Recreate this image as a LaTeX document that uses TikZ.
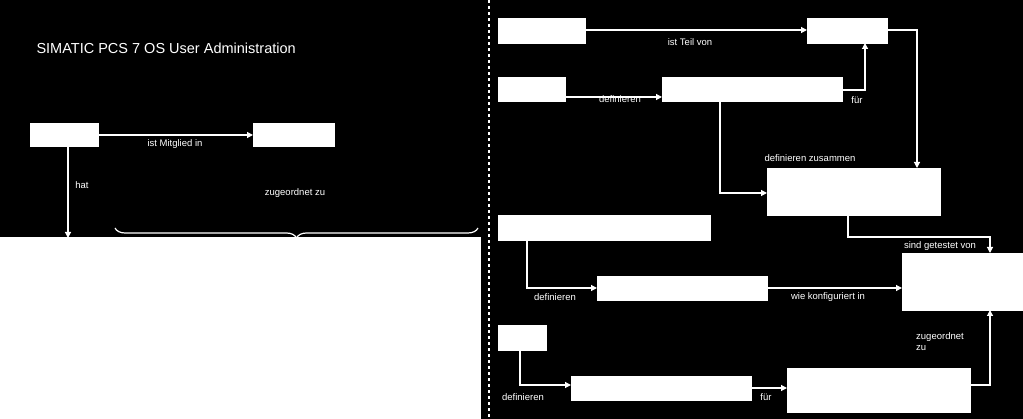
\documentclass[tikz,border=0pt]{standalone}
\usepackage{fontspec}
\setmainfont{Liberation Sans}
\usetikzlibrary{decorations.pathreplacing,arrows.meta}
\begin{document}
\begin{tikzpicture}[x=1pt,y=-1pt,
  bx/.style={fill=white,draw=white},
  con/.style={draw=white,line width=1.2pt,-{Triangle[length=6pt,width=6pt]}},
  lab/.style={text=white,font=\fontsize{9.5}{11}\selectfont,inner sep=1pt}]
\fill[black] (0,0) rectangle (1023,419);
\useasboundingbox (0,0) rectangle (1023,419);
\node[text=white,anchor=west,font=\fontsize{14.5}{16}\selectfont] (t) at (33,48) {SIMATIC PCS 7 OS User Administration};
\draw[white,dashed,line width=1.5pt] (489,0) -- (489,419);
% left
\path[bx] (30,123) rectangle (98,146); \coordinate (A) at (98,135);
\path[bx] (253,123) rectangle (334,146); \coordinate (B) at (253,135);
\draw[con] (A) -- (B);
\node[lab] at (175,144) {ist Mitglied in};
\coordinate (Ad) at (68,146); \coordinate (Big) at (68,238);
\draw[con] (Ad) -- (Big);
\node[lab] at (82,185) {hat};
\path[bx] (0,237) rectangle (480,419);
\coordinate (b1) at (115,228); \coordinate (b2) at (478,228);
\draw[white,line width=1.2pt,decorate,decoration={brace,amplitude=10pt,mirror}] (b1) -- (b2);
\node[lab] at (295,193) {zugeordnet zu};
% right
\path[bx] (498,18) rectangle (585,43);
\path[bx] (807,18) rectangle (887,43);
\coordinate (r1) at (585,30); \coordinate (r2) at (807,30);
\draw[con] (r1) -- (r2);
\node[lab] at (690,42) {ist Teil von};
\path[bx] (498,77) rectangle (565,101);
\path[bx] (662,77) rectangle (842,101);
\coordinate (r3) at (565,97); \coordinate (r4) at (662,97);
\draw[con] (r3) -- (r4);
\node[lab] at (620,99) {definieren};
\coordinate (r4r) at (842,90); \coordinate (r2b) at (865,43);
\draw[con] (r4r) -| (r2b);
\node[lab] at (857,100) {für};
\path[bx] (767,168) rectangle (940,215);
\coordinate (r4b) at (720,101); \coordinate (r5l) at (767,193);
\draw[con] (r4b) |- (r5l);
\node[lab] at (810,158) {definieren zusammen};
\coordinate (r2r) at (887,30); \coordinate (r5t) at (917,168);
\draw[con] (r2r) -| (r5t);
\path[bx] (902,253) rectangle (1023,310);
\coordinate (r5b) at (848,215); \coordinate (r6t) at (990,253);
\draw[con] (r5b) |- (990,237) -- (r6t);
\node[lab] at (940,246) {sind getestet von};
\path[bx] (498,215) rectangle (710,240);
\path[bx] (597,276) rectangle (767,300);
\coordinate (r7b) at (527,240); \coordinate (r8l) at (597,288);
\draw[con] (r7b) |- (r8l);
\node[lab] at (555,297) {definieren};
\coordinate (r8r) at (767,288); \coordinate (r6l) at (902,288);
\draw[con] (r8r) -- (r6l);
\node[lab] at (828,297) {wie konfiguriert in};
\path[bx] (498,325) rectangle (546,350);
\path[bx] (571,376) rectangle (751,400);
\coordinate (r9b) at (520,350); \coordinate (r10l) at (571,385);
\draw[con] (r9b) |- (r10l);
\node[lab] at (523,397) {definieren};
\path[bx] (787,368) rectangle (970,412);
\coordinate (r10r) at (751,388); \coordinate (r11l) at (787,388);
\draw[con] (r10r) -- (r11l);
\node[lab] at (766,397) {für};
\coordinate (r11r) at (970,385); \coordinate (r6b) at (990,310);
\draw[con] (r11r) -| (r6b);
\node[lab,align=left,anchor=west] at (915,342) {zugeordnet\\zu};
\end{tikzpicture}
\end{document}
